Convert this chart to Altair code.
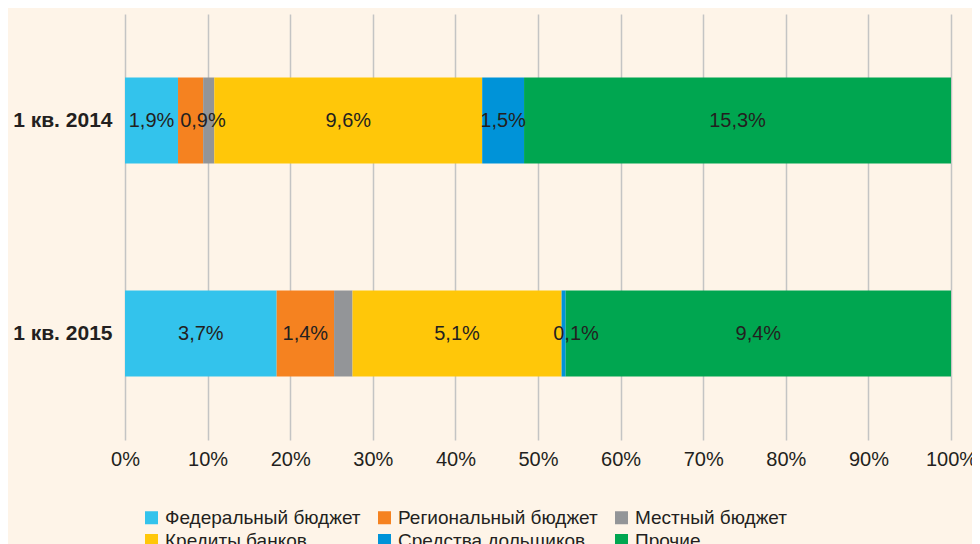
import altair as alt
import pandas as pd

periods = ["1 кв. 2014", "1 кв. 2015"]
categories = ["Федеральный бюджет", "Региональный бюджет", "Местный бюджет",
              "Кредиты банков", "Средства дольщиков", "Прочие"]
colors = ["#33C3EC", "#F58220", "#939598", "#FFC709", "#0093D8", "#00A650"]
values_2014 = [1.9, 0.9, 0.4, 9.6, 1.5, 15.3]
values_2015 = [3.7, 1.4, 0.45, 5.1, 0.1, 9.4]
labels_2014 = ["1,9%", "0,9%", "", "9,6%", "1,5%", "15,3%"]
labels_2015 = ["3,7%", "1,4%", "", "5,1%", "0,1%", "9,4%"]

rows = []
for p, vals, labs in [(periods[0], values_2014, labels_2014), (periods[1], values_2015, labels_2015)]:
    for i, (c, v, l) in enumerate(zip(categories, vals, labs)):
        rows.append({"period": p, "category": c, "value": v, "label": l, "order": i})
df = pd.DataFrame(rows)

FONT = "Liberation Sans"
TXT = "#231F20"

y_enc = alt.Y("period:N", sort=periods,
              scale=alt.Scale(paddingInner=0.596, paddingOuter=0.298),
              axis=alt.Axis(title=None, domain=False, ticks=False, labelFontSize=21,
                            labelFontWeight="bold", labelColor=TXT, labelPadding=13, labelFont=FONT))

base = alt.Chart(df)

bars = base.mark_bar().encode(
    y=y_enc,
    x=alt.X("value:Q", stack="normalize", scale=alt.Scale(domain=[0, 1]),
            axis=alt.Axis(title=None, format="%", values=[i / 10 for i in range(11)],
                          domain=False, ticks=False, grid=True, gridColor="#C4C4C4",
                          gridWidth=1.5, labelFontSize=20, labelColor=TXT, labelPadding=9,
                          labelFont=FONT, labelFlush=False, labelOverlap=False)),
    color=alt.Color("category:N", sort=categories,
                    scale=alt.Scale(domain=categories, range=colors),
                    legend=alt.Legend(title=None, orient="none", legendX=17, legendY=494,
                                      direction="horizontal", columns=3,
                                      symbolType="square", symbolSize=169,
                                      symbolStrokeWidth=0, labelFontSize=19, labelColor=TXT,
                                      labelFont=FONT, labelOffset=4, columnPadding=14,
                                      rowPadding=3, labelLimit=400)),
    order=alt.Order("order:Q"),
)

# labels centred on their segment; narrow segments get their label nudged right
text = base.transform_stack(
    stack="value", groupby=["period"], sort=[alt.SortField("order")],
    as_=["x0", "x1"], offset="normalize"
).transform_calculate(
    mid="(datum.x0 + datum.x1) / 2 + ((datum.x1 - datum.x0) < 0.04 ? 0.015 : 0)"
).mark_text(fontSize=20, color=TXT, font=FONT).encode(
    y=alt.Y("period:N", sort=periods),
    x=alt.X("mid:Q"),
    text="label:N",
)

chart = alt.layer(bars, text).properties(
    width=826, height=426,
    padding={"left": 117, "top": 6, "right": 21, "bottom": 104},
    autosize="none",
    background="#FEF4E8",
).configure_view(stroke=None)

chart.save("out.html", embed_options={"renderer": "svg", "actions": False})
